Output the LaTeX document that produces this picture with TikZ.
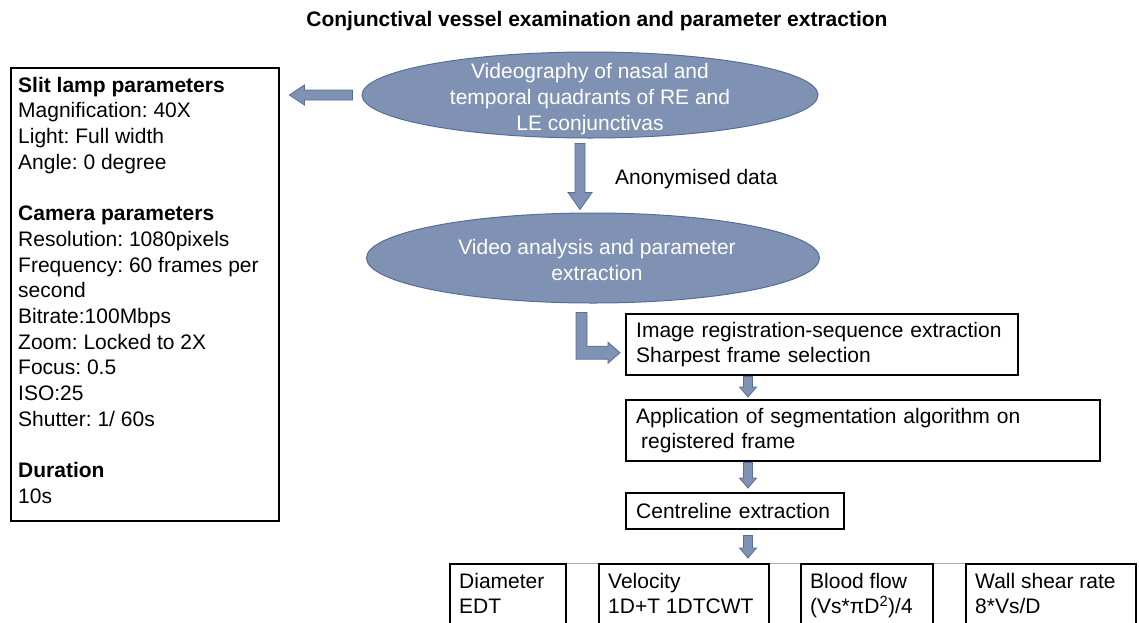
\documentclass[tikz,border=0pt]{standalone}
\usepackage{fontspec}
\setmainfont{Liberation Sans}
\usetikzlibrary{shapes.geometric,calc}
\frenchspacing

\definecolor{slate}{RGB}{128,146,180}
\definecolor{slateedge}{RGB}{86,110,152}
\definecolor{linkgray}{RGB}{170,170,170}

\tikzset{
  body/.style={font=\fontsize{21}{25.7}\selectfont},
  panel/.style={draw=black, line width=2.4pt, inner sep=0pt},
  stepbox/.style={panel, anchor=north west, align=left, body,
    inner xsep=10pt, inner ysep=0pt},
  oval/.style={ellipse, fill=slate, draw=slateedge, line width=1pt, inner sep=0pt},
  ovaltext/.style={body, text=white, align=center, inner sep=0pt},
  blockarrow/.style={fill=slate, draw=slateedge, line width=0.8pt, line join=miter},
  plain/.style={body, inner sep=0pt},
}

% vertical block arrow: start, tip, shaft half-width, head half-width, head length
\newcommand\downblock[5]{%
  \filldraw[blockarrow] let \p1=(#1), \p2=(#2) in
    (\x1-#3,\y1) -- (\x1-#3,\y2+#5) -- (\x1-#4,\y2+#5) -- (\x1,\y2)
    -- (\x1+#4,\y2+#5) -- (\x1+#3,\y2+#5) -- (\x1+#3,\y1) -- cycle;}
% leftward block arrow: start, tip, shaft half-height, head half-height, head length
\newcommand\leftblock[5]{%
  \filldraw[blockarrow] let \p1=(#1), \p2=(#2) in
    (\x1,\y1+#3) -- (\x2+#5,\y1+#3) -- (\x2+#5,\y1+#4) -- (\x2,\y1)
    -- (\x2+#5,\y1-#4) -- (\x2+#5,\y1-#3) -- (\x1,\y1-#3) -- cycle;}

\begin{document}
\begin{tikzpicture}[x=1pt, y=-1pt]
\clip (0,0) rectangle (1139,622);

% title
\node[font=\fontsize{21}{25}\selectfont\bfseries, inner sep=0pt, anchor=base] (title) at (597,26)
  {Conjunctival vessel examination and parameter extraction};

% acquisition settings panel
\node[panel, anchor=north west, minimum width=268pt, minimum height=453pt] (params) at (10,67) {};
\node[plain, anchor=north west, align=left] (paramtext) at (18,76.8)
  {\textbf{Slit lamp parameters}\\
   Magnification: 40X\\
   Light: Full width\\
   Angle: 0 degree\\[25.7pt]
   \textbf{Camera parameters}\\
   Resolution: 1080pixels\\
   Frequency: 60 frames per\\
   second\\
   Bitrate:100Mbps\\
   Zoom: Locked to 2X\\
   Focus: 0.5\\
   ISO:25\\
   Shutter: 1/ 60s\\[25.7pt]
   \textbf{Duration}\\
   10s};

% recording and analysis stages
\node[oval, minimum width=456pt, minimum height=86pt] (video) at (590,95) {};
\node[ovaltext] at (590,99)
  {Videography of nasal and\\ temporal quadrants of RE and\\ LE conjunctivas};

\node[oval, minimum width=453pt, minimum height=90pt] (analysis) at (593,258) {};
\node[ovaltext] at (597,260) {Video analysis and parameter\\ extraction};

\node[plain, anchor=base west] (anon) at (615,184) {Anonymised data};

% processing chain
\node[stepbox, text width=372pt, minimum height=61pt] (reg) at (625,313)
  {Image registration-sequence extraction\\ Sharpest frame selection};
\node[stepbox, text width=454pt, minimum height=61pt] (seg) at (625,399)
  {Application of segmentation algorithm on\\ \hspace{5pt}registered frame};
\node[stepbox, text width=198pt, minimum height=36pt] (centre) at (625,492)
  {Centreline extraction};

% output parameters
\draw[linkgray, line width=1pt] (565,563) -- (965,563);
\node[panel, anchor=north west, minimum width=116pt, minimum height=90pt] (diam) at (449,563) {};
\node[panel, anchor=north west, minimum width=170pt, minimum height=90pt] (velo) at (598,563) {};
\node[panel, anchor=north west, minimum width=132pt, minimum height=90pt] (flow) at (800,563) {};
\node[panel, anchor=north west, minimum width=170pt, minimum height=90pt] (shear) at (965,563) {};

\node[plain, anchor=north west, align=left] at ([xshift=10pt,yshift=-9.6pt]diam.north west)
  {Diameter\\ EDT};
\node[plain, anchor=north west, align=left] at ([xshift=10pt,yshift=-9.6pt]velo.north west)
  {Velocity\\ 1D+T 1DTCWT};
\node[plain, anchor=north west, align=left] at ([xshift=10pt,yshift=-9.6pt]flow.north west)
  {Blood flow\\ (Vs*πD\textsuperscript{2})/4};
\node[plain, anchor=north west, align=left] at ([xshift=10pt,yshift=-9.6pt]shear.north west)
  {Wall shear rate\\ 8*Vs/D};

% block arrows
\coordinate (ax) at (748,0);
\leftblock{[xshift=-9pt]video.west}{[xshift=9pt]params.east}{5pt}{10pt}{15pt}
\downblock{[xshift=-10pt,yshift=-5pt]video.south}{[yshift=3pt]analysis.north}{5pt}{12pt}{17pt}

\filldraw[blockarrow] let \p1=([xshift=-11.5pt,yshift=-9pt]analysis.south),
                          \p2=([xshift=-5pt,yshift=-8pt]reg.west) in
  (\x1-5.5pt,\y1) -- (\x1-5.5pt,\y2-6.5pt) -- (\x2-12pt,\y2-6.5pt) -- (\x2-12pt,\y2-10.5pt)
  -- (\x2,\y2) -- (\x2-12pt,\y2+10.5pt) -- (\x2-12pt,\y2+6.5pt) -- (\x1+5.5pt,\y2+6.5pt)
  -- (\x1+5.5pt,\y1) -- cycle;

\downblock{reg.south -| ax}{[yshift=2pt]seg.north -| ax}{4.5pt}{8.5pt}{10pt}
\downblock{seg.south -| ax}{[yshift=4pt]centre.north -| ax}{4.5pt}{8.5pt}{10pt}
\downblock{[yshift=-5pt]centre.south -| ax}{[yshift=5pt]velo.north -| ax}{4.5pt}{8.5pt}{10pt}
\end{tikzpicture}
\end{document}
